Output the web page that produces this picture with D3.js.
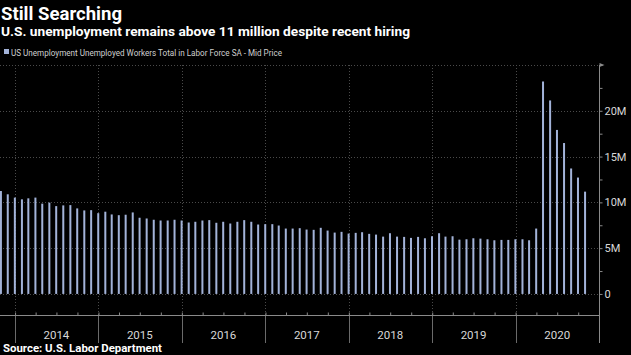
<!DOCTYPE html>
<html>
<head>
<meta charset="utf-8">
<script src="https://cdn.jsdelivr.net/npm/d3@7"></script>
<style>
  html, body { margin: 0; padding: 0; background: #000; }
  svg { display: block; }
</style>
</head>
<body>
<svg id="chart" width="631" height="355"></svg>
<script>
// ---- data ----
const title = "Still Searching";
const subtitle = "U.S. unemployment remains above 11 million despite recent hiring";
const legendLabel = "US Unemployment Unemployed Workers Total in Labor Force SA - Mid Price";
const sourceText = "Source: U.S. Labor Department";
const firstMonth = "2013-10";   // first observation (monthly, plotted at month end)
// unemployed workers, millions
const unemployed = [
  11.24, 10.88, 10.52,
  10.33, 10.44, 10.52, 9.86, 9.97, 9.59, 9.67, 9.70, 9.34, 9.12, 9.15, 8.82,
  8.98, 8.68, 8.60, 8.65, 8.90, 8.32, 8.24, 8.10, 8.02, 8.02, 8.10, 8.02,
  7.80, 7.88, 8.02, 8.06, 7.77, 7.88, 7.69, 7.88, 8.06, 7.88, 7.58, 7.62,
  7.62, 7.47, 7.14, 7.14, 7.18, 7.03, 7.00, 7.22, 6.92, 6.70, 6.78, 6.59,
  6.67, 6.74, 6.56, 6.48, 6.26, 6.63, 6.26, 6.23, 6.12, 6.23, 6.08, 6.30,
  6.63, 6.26, 6.30, 5.93, 5.97, 6.08, 6.04, 5.97, 5.86, 5.90, 5.90, 5.97,
  5.97, 5.86, 7.14, 23.20, 21.13, 17.91, 16.48, 13.70, 12.71, 11.17
];
const yearLabels = ["2014", "2015", "2016", "2017", "2018", "2019", "2020"];
const yTickValues = [0, 5, 10, 15, 20];
const yTickLabels = ["0", "5M", "10M", "15M", "20M"];

// ---- build ----
const parseMonth = d3.timeParse("%Y-%m");
const start = parseMonth(firstMonth);
const series = unemployed.map((v, i) => {
  const m = d3.timeMonth.offset(start, i);
  const end = new Date(m.getFullYear(), m.getMonth() + 1, 0); // month end
  return { date: end, value: v };
});

const svg = d3.select("#chart");
const plotLeft = 0, plotRight = 599, plotTop = 65, plotBottom = 315, labelBottom = 343;

const x = d3.scaleTime()
  .domain([new Date(2013, 9, 27), new Date(2020, 11, 31)])
  .range([plotLeft, plotRight]);
const y = d3.scaleLinear()
  .domain([-2.3, 25])
  .range([plotBottom, plotTop]);

const gridColor = "#4a4a4a";
const axisColor = "#8a8a8a";
const textColor = "#d8d8d8";
const barColor = "#a3b3d9";
const font = "Roboto, 'Liberation Sans', sans-serif";

// horizontal dotted gridlines
svg.append("g").selectAll("line")
  .data([0, 5, 10, 15, 20, 25])
  .join("line")
  .attr("x1", plotLeft).attr("x2", plotRight)
  .attr("y1", d => Math.round(y(d)) + 0.5).attr("y2", d => Math.round(y(d)) + 0.5)
  .attr("stroke", gridColor).attr("stroke-width", 1)
  .attr("stroke-dasharray", "1,2");

// year boundaries
const yearStarts = yearLabels.map(t => new Date(+t, 0, 1));
svg.append("g").selectAll("line")
  .data(yearStarts)
  .join("line")
  .attr("x1", d => Math.round(x(d)) + 0.5).attr("x2", d => Math.round(x(d)) + 0.5)
  .attr("y1", plotTop).attr("y2", plotBottom)
  .attr("stroke", gridColor).attr("stroke-dasharray", "1,2");
svg.append("g").selectAll("line")
  .data(yearStarts)
  .join("line")
  .attr("x1", d => Math.round(x(d)) + 0.5).attr("x2", d => Math.round(x(d)) + 0.5)
  .attr("y1", plotBottom).attr("y2", labelBottom)
  .attr("stroke", "#6a6a6a");

// bars
const barW = 2;
svg.append("g").selectAll("rect")
  .data(series)
  .join("rect")
  .attr("x", d => x(d.date) - barW / 2)
  .attr("width", barW)
  .attr("y", d => y(d.value))
  .attr("height", d => y(0) - y(d.value))
  .attr("fill", barColor);

// bottom axis with quarter ticks
const bottomAxis = d3.axisTop(x)
  .ticks(d3.timeMonth.every(3))
  .tickSize(3)
  .tickFormat("");
const bg = svg.append("g")
  .attr("transform", `translate(0,${plotBottom + 0.5})`)
  .call(bottomAxis);
bg.select(".domain").attr("stroke", axisColor).attr("d", `M${plotLeft},0H${plotRight}`);
bg.selectAll(".tick line").attr("stroke", axisColor);

// year labels (centered mid-year)
svg.append("g").selectAll("text")
  .data(yearLabels)
  .join("text")
  .attr("x", d => x(new Date(+d, 6, 1)))
  .attr("y", 339)
  .attr("text-anchor", "middle")
  .attr("fill", textColor)
  .attr("font-family", font)
  .attr("font-size", 11.5)
  .text(d => d);

// right axis
const rightAxis = d3.axisRight(y)
  .tickValues(d3.range(0, 25.01, 2.5))
  .tickSize(3)
  .tickFormat(d => {
    const i = yTickValues.indexOf(d);
    return i >= 0 ? yTickLabels[i] : "";
  });
const rg = svg.append("g")
  .attr("transform", `translate(${plotRight + 0.5},0)`)
  .call(rightAxis);
rg.select(".domain").attr("stroke", axisColor).attr("d", `M0,${plotTop}V${labelBottom}`);
rg.selectAll(".tick line").attr("stroke", axisColor);
rg.selectAll(".tick text")
  .attr("x", 5)
  .attr("fill", textColor)
  .attr("font-family", font)
  .attr("font-size", 11);
// small arrow at top of right axis
rg.append("path")
  .attr("d", `M0,${plotTop - 2}L5,${plotTop}L0,${plotTop + 2}Z`)
  .attr("fill", axisColor);

// titles
svg.append("text")
  .attr("x", 1).attr("y", 20)
  .attr("fill", "#ffffff")
  .attr("font-family", font).attr("font-weight", "bold")
  .attr("font-size", 18)
  .attr("textLength", 121).attr("lengthAdjust", "spacingAndGlyphs")
  .text(title);
svg.append("text")
  .attr("x", 1).attr("y", 36)
  .attr("fill", "#ffffff")
  .attr("font-family", font).attr("font-weight", "bold")
  .attr("font-size", 13)
  .attr("textLength", 409).attr("lengthAdjust", "spacingAndGlyphs")
  .text(subtitle);

// legend
svg.append("rect")
  .attr("x", 4).attr("y", 49).attr("width", 5).attr("height", 5)
  .attr("fill", barColor);
svg.append("text")
  .attr("x", 11).attr("y", 56)
  .attr("fill", "#cfcfcf")
  .attr("font-family", font)
  .attr("font-size", 9.5)
  .attr("textLength", 271).attr("lengthAdjust", "spacingAndGlyphs")
  .text(legendLabel);

// source
svg.append("text")
  .attr("x", 3).attr("y", 352)
  .attr("fill", "#ffffff")
  .attr("font-family", font).attr("font-weight", "bold")
  .attr("font-size", 10.5)
  .attr("textLength", 159).attr("lengthAdjust", "spacingAndGlyphs")
  .text(sourceText);
</script>
</body>
</html>
